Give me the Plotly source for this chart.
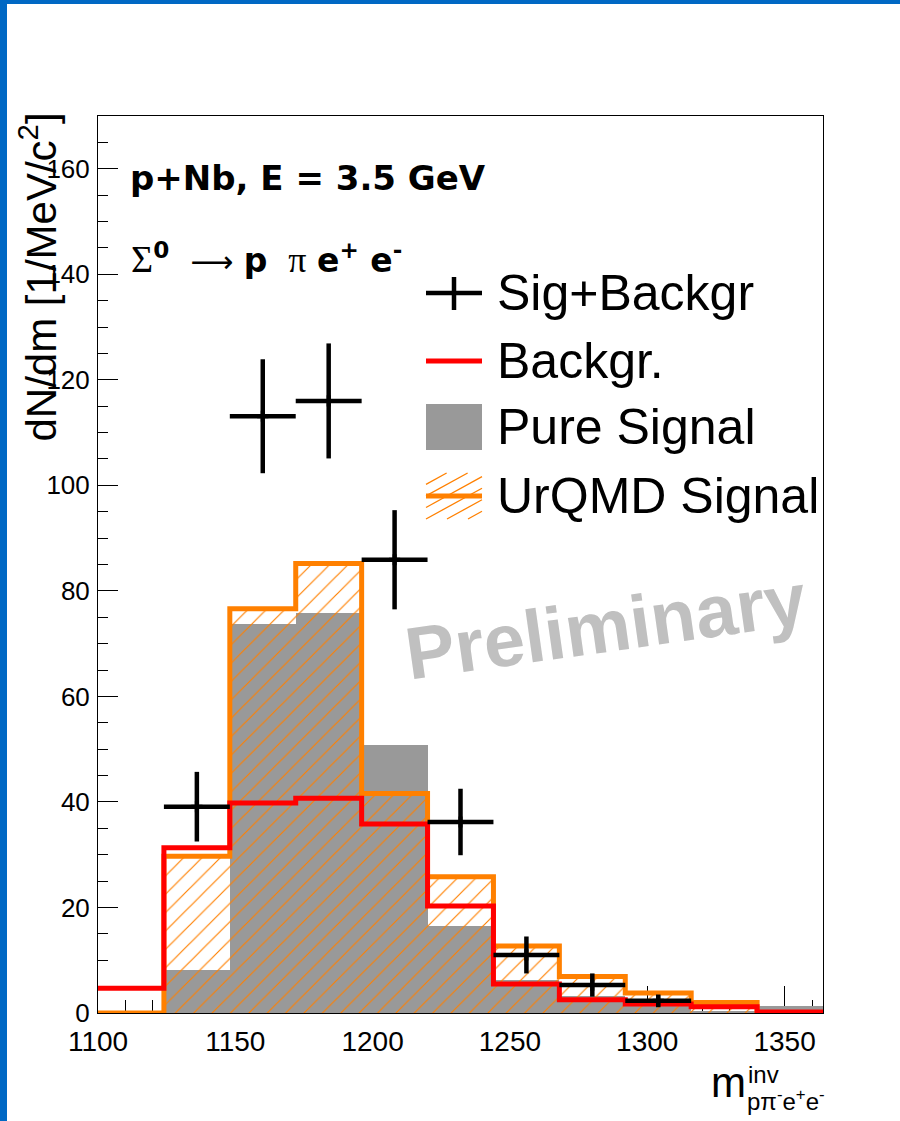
import numpy as np
import plotly.graph_objects as go

# ---------------- data ----------------
bin_edges = [1100, 1124, 1148, 1172, 1196, 1220, 1244, 1268, 1292, 1316, 1340, 1364]
sig_bkg = [None, 39.1, 113.1, 116.0, 85.9, 36.2, 11.0, 5.3, 2.3, None, None]
sig_bkg_err = [None, 6.6, 10.8, 10.9, 9.4, 6.3, 3.5, 2.2, 1.2, None, None]
backgr = [4.7, 31.3, 39.8, 40.7, 35.8, 20.3, 5.5, 2.5, 1.7, 1.2, 0.2]
pure_signal = [0.0, 8.1, 73.8, 75.8, 50.8, 16.5, 6.3, 3.3, 1.3, 0.3, 1.4]
urqmd_signal = [0.0, 29.7, 76.6, 85.2, 41.6, 25.8, 12.7, 6.9, 3.8, 2.0, 0.0]
x_ticks = [1100, 1150, 1200, 1250, 1300, 1350]
y_ticks = [0, 20, 40, 60, 80, 100, 120, 140, 160]
legend_labels = ["Sig+Backgr", "Backgr.", "Pure Signal", "UrQMD Signal"]

# ---------------- geometry ----------------
W, H = 900, 1121
ML, MR, MT, MB = 98, 77, 116, 108
PW, PH = W - ML - MR, H - MT - MB


def px(xp):
    return (xp - ML) / PW


def py(yp):
    return (H - MB - yp) / PH


edges = np.array(bin_edges, dtype=float)
centers = (edges[:-1] + edges[1:]) / 2
widths = np.diff(edges)

FONT = "Liberation Sans, Arial, Helvetica, sans-serif"
ORANGE = "#ff8000"
RED = "#ff0000"
GRAY = "#999999"

fig = go.Figure()

# pure signal (gray filled histogram)
fig.add_trace(go.Bar(
    x=centers, y=pure_signal, width=widths,
    marker=dict(color=GRAY, line=dict(width=0)),
    name=legend_labels[2], showlegend=False,
))

# UrQMD signal (orange hatched histogram)
fig.add_trace(go.Bar(
    x=centers, y=urqmd_signal, width=widths,
    marker=dict(color="rgba(0,0,0,0)", line=dict(width=0),
                pattern=dict(shape="/", fgcolor=ORANGE, bgcolor="rgba(0,0,0,0)",
                             size=13, solidity=0.09, fillmode="replace")),
    name=legend_labels[3], showlegend=False,
))

# UrQMD outline
fig.add_trace(go.Scatter(
    x=edges, y=np.append(urqmd_signal, urqmd_signal[-1]),
    mode="lines", line=dict(color=ORANGE, width=5, shape="hv"),
    showlegend=False, hoverinfo="skip",
))

# background (red outline)
fig.add_trace(go.Scatter(
    x=edges, y=np.append(backgr, backgr[-1]),
    mode="lines", line=dict(color=RED, width=5, shape="hv"),
    name=legend_labels[1], showlegend=False,
))

# signal + background data points
fig.add_trace(go.Scatter(
    x=centers, y=sig_bkg,
    mode="markers",
    marker=dict(symbol="cross-thin", size=8, color="black",
                line=dict(color="black", width=4)),
    error_x=dict(type="data", array=widths / 2, color="black", thickness=4.5, width=0),
    error_y=dict(type="data", array=sig_bkg_err, color="black", thickness=4.5, width=0),
    name=legend_labels[0], showlegend=False,
))

fig.update_layout(
    width=W, height=H,
    margin=dict(l=ML, r=MR, t=MT, b=MB, pad=0),
    paper_bgcolor="white", plot_bgcolor="white",
    barmode="overlay", bargap=0,
    font=dict(family=FONT, color="black"),
    showlegend=False,
)

fig.update_xaxes(
    range=[edges[0], edges[-1]], tickvals=x_ticks, ticktext=[str(v) for v in x_ticks],
    ticks="inside", ticklen=27, tickwidth=1, tickcolor="black",
    minor=dict(dtick=10, tick0=1100, ticks="inside", ticklen=13, tickwidth=1, tickcolor="black"),
    showline=True, linecolor="black", linewidth=1, mirror=True,
    showgrid=False, zeroline=False, layer="below traces",
    tickfont=dict(size=28, family=FONT), ticklabelstandoff=3,
)
fig.update_yaxes(
    range=[0, 170], tickvals=y_ticks, ticktext=[str(v) for v in y_ticks],
    ticks="inside", ticklen=20, tickwidth=1, tickcolor="black",
    minor=dict(dtick=5, tick0=0, ticks="inside", ticklen=10, tickwidth=1, tickcolor="black"),
    showline=True, linecolor="black", linewidth=1, mirror=True,
    showgrid=False, zeroline=False, layer="below traces",
    tickfont=dict(size=26, family=FONT), ticklabelstandoff=2,
)

# ---------------- texts ----------------
ann = []
ann.append(dict(
    text="dN/dm [1/MeV/c<sup>2</sup>]", textangle=-90,
    xref="paper", yref="paper", x=px(38), y=py(111), xanchor="center", yanchor="top",
    showarrow=False, font=dict(size=42, family=FONT, color="black"),
))
ann.append(dict(
    text="<b>p+Nb, E = 3.5 GeV</b>",
    xref="paper", yref="paper", x=px(128), y=py(178), xanchor="left", yanchor="middle",
    showarrow=False, font=dict(size=34, family="DejaVu Sans, sans-serif", color="black"),
))
ann.append(dict(
    text=("<span style='font-family:Liberation Serif;font-size:38px'>Σ</span><sup><b>0</b></sup>"
          "  <span style='font-family:DejaVu Sans;font-size:30px'>⟶</span> <b>p</b>  "
          "<span style='font-family:Liberation Serif;font-size:36px'>π</span> "
          "<b>e<sup>+</sup> e<sup>-</sup></b>"),
    xref="paper", yref="paper", x=px(129), y=py(258), xanchor="left", yanchor="middle",
    showarrow=False, font=dict(size=33, family="DejaVu Sans, sans-serif", color="black"),
))
ann.append(dict(
    text="<b>Preliminary</b>", textangle=-8,
    xref="paper", yref="paper", x=px(605), y=py(626), xanchor="center", yanchor="middle",
    showarrow=False, font=dict(size=74, family=FONT, color="#c0c0c0"),
))
# x-axis title m^{inv}_{p pi- e+ e-}
ann.append(dict(
    text="m", xref="paper", yref="paper", x=px(748), y=py(1082), xanchor="right", yanchor="middle",
    showarrow=False, font=dict(size=42, family=FONT, color="black"),
))
ann.append(dict(
    text="inv", xref="paper", yref="paper", x=px(746), y=py(1074), xanchor="left", yanchor="middle",
    showarrow=False, font=dict(size=24, family=FONT, color="black"),
))
ann.append(dict(
    text="pπ<sup>-</sup>e<sup>+</sup>e<sup>-</sup>", xref="paper", yref="paper",
    x=px(745), y=py(1100), xanchor="left", yanchor="middle",
    showarrow=False, font=dict(size=24, family=FONT, color="black"),
))

# ---------------- legend (drawn manually, large symbols like the original) ----------------
LEG_X0, LEG_X1, LEG_TXT = 426, 482, 495
row_y = [293, 361, 427, 496]
for label, yc in zip(legend_labels, row_y):
    ann.append(dict(
        text=label, xref="paper", yref="paper", x=px(LEG_TXT), y=py(yc),
        xanchor="left", yanchor="middle", showarrow=False,
        font=dict(size=50, family=FONT, color="black"),
    ))
fig.update_layout(annotations=ann)

shapes = []


def seg(x0, y0, x1, y1, color, w):
    shapes.append(dict(type="line", xref="paper", yref="paper",
                       x0=px(x0), y0=py(y0), x1=px(x1), y1=py(y1),
                       line=dict(color=color, width=w)))


def box(x0, y0, x1, y1, color):
    shapes.append(dict(type="rect", xref="paper", yref="paper",
                       x0=px(x0), y0=py(y1), x1=px(x1), y1=py(y0),
                       fillcolor=color, line=dict(width=0)))


# Sig+Backgr: cross
xm = (LEG_X0 + LEG_X1) / 2
seg(LEG_X0, row_y[0], LEG_X1, row_y[0], "black", 4.5)
seg(xm, row_y[0] - 16, xm, row_y[0] + 17, "black", 4.5)
# Backgr.: red line
seg(LEG_X0, row_y[1], LEG_X1, row_y[1], RED, 5)
# Pure Signal: gray box
box(LEG_X0, row_y[2] - 23, LEG_X1, row_y[2] + 23, GRAY)
# UrQMD Signal: hatched box + orange line
hy0, hy1 = row_y[3] - 23, row_y[3] + 23
slope = 0.55  # screen-space rise of the hatch lines
step = 21
for k in range(-4, 8):
    xs = LEG_X0 + k * step
    pts = []
    for xx in (LEG_X0, LEG_X1):
        yy = hy1 - slope * (xx - xs)
        if hy0 <= yy <= hy1:
            pts.append((xx, yy))
    for yy in (hy0, hy1):
        xx = xs + (hy1 - yy) / slope
        if LEG_X0 <= xx <= LEG_X1:
            pts.append((xx, yy))
    pts = sorted(set((round(a, 3), round(b, 3)) for a, b in pts))
    if len(pts) >= 2 and (pts[0] != pts[-1]):
        seg(pts[0][0], pts[0][1], pts[-1][0], pts[-1][1], ORANGE, 1.3)
seg(LEG_X0, row_y[3], LEG_X1, row_y[3], ORANGE, 5)

# blue page border (left and top strips)
BLUE = "#0068c4"
box(0, 0, 7, H, BLUE)
box(0, 0, W, 4, BLUE)

fig.update_layout(shapes=shapes)

fig.write_html("out.html")
